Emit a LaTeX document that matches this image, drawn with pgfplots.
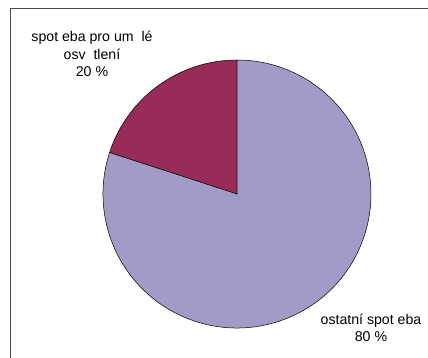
\documentclass[border=0pt]{standalone}
\usepackage{pgfplots}
\pgfplotsset{compat=1.18}
\usepackage{pgfplotstable}
\usepackage{fontspec}
\setmainfont{Liberation Sans}
\definecolor{sliceA}{RGB}{153,43,88}
\definecolor{sliceB}{RGB}{161,155,200}
\pgfplotstableread{
label value
umele 20
ostatni 80
}\piedata
\begin{document}
\begin{tikzpicture}
\pgfplotstablegetelem{0}{value}\of\piedata\edef\va{\pgfplotsretval}
\pgfplotstablegetelem{1}{value}\of\piedata\edef\vb{\pgfplotsretval}
\pgfmathsetmacro{\angA}{90+3.6*\va}
\pgfmathsetmacro{\angB}{\angA+3.6*\vb}
\begin{axis}[
  width=428bp, height=358bp, scale only axis,
  xmin=0, xmax=428, ymin=0, ymax=358,
  hide axis, clip=false,
]
\draw[draw=black!70, line width=0.9pt] (axis cs:10.5,-10) -- (axis cs:10.5,349.5) -- (axis cs:440,349.5);
\fill[sliceA, draw=black, line width=0.5pt] (axis cs:237,164) -- ++(90:134bp) arc[start angle=90, end angle=\angA, radius=134bp] -- cycle;
\fill[sliceB, draw=black, line width=0.5pt] (axis cs:237,164) -- ++(\angA:134bp) arc[start angle=\angA, end angle=\angB, radius=134bp] -- cycle;
\node[align=center, font=\fontsize{14.2}{17.5}\selectfont, inner sep=0pt] at (axis cs:92,304) {spot eba pro um\ \ lé\\osv\ \ tlení\\20 \%};
\node[align=center, font=\fontsize{14.2}{17.5}\selectfont, inner sep=0pt] at (axis cs:371,30) {ostatní spot eba\\80 \%};
\end{axis}
\pgfresetboundingbox
\path (current axis.south west) rectangle (current axis.north east);
\end{tikzpicture}
\end{document}
